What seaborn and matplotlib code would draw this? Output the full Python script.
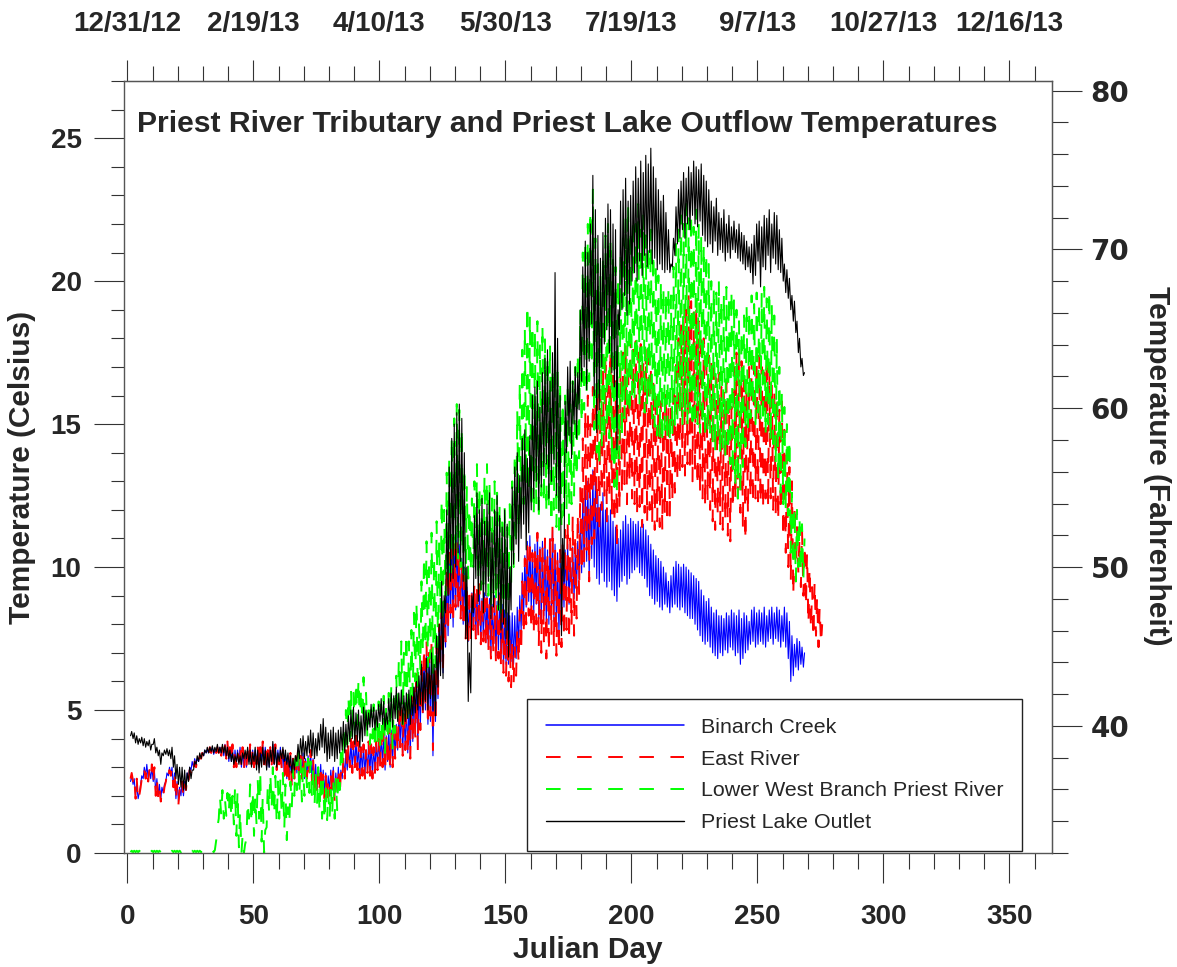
import numpy as np
import pandas as pd
import matplotlib
matplotlib.use("Agg")
import matplotlib.pyplot as plt
import seaborn as sns
from matplotlib.ticker import FixedLocator
from matplotlib.lines import Line2D

# ---------------- data (daily low / high, deg C) ----------------
series_names = ["Binarch Creek", "East River", "Lower West Branch Priest River", "Priest Lake Outlet"]
series_colors = ["#0000ff", "#ff0000", "#00ff00", "#000000"]
top_dates = ["12/31/12", "2/19/13", "4/10/13", "5/30/13", "7/19/13", "9/7/13", "10/27/13", "12/16/13"]
top_date_days = [0, 50, 100, 150, 200, 250, 300, 350]
x_major = [0, 50, 100, 150, 200, 250, 300, 350]
c_major = [0, 5, 10, 15, 20, 25]
f_major = [40, 50, 60, 70, 80]

# Binarch Creek, days 1-268
bin_high = [2.7, 2.6, 2.4, 2.1, 2.7, 3.0, 3.1, 2.9, 3.0, 2.9,
            2.6, 2.4, 2.3, 2.4, 2.8, 3.0, 3.0, 2.8, 2.5, 2.3,
            2.5, 2.5, 2.8, 3.0, 3.2, 3.3, 3.3, 3.4, 3.5, 3.6,
            3.6, 3.7, 3.7, 3.6, 3.7, 3.7, 3.7, 3.8, 3.8, 3.7,
            3.7, 3.6, 3.6, 3.7, 3.6, 3.5, 3.6, 3.7, 3.6, 3.6,
            3.7, 3.7, 3.8, 3.7, 3.6, 3.7, 3.8, 3.7, 3.6, 3.7,
            3.6, 3.5, 3.4, 3.4, 3.3, 3.4, 3.5, 3.4, 3.5, 3.3,
            3.4, 3.5, 3.3, 3.1, 3.0, 3.1, 2.9, 2.8, 2.7, 2.9,
            3.0, 2.8, 3.0, 2.9, 3.3, 3.5, 3.7, 3.9, 3.8, 4.0,
            3.8, 3.7, 3.8, 3.6, 3.8, 3.8, 3.7, 3.9, 4.0, 4.1,
            4.2, 4.1, 4.4, 4.3, 4.4, 4.5, 4.9, 5.1, 4.9, 5.2,
            5.1, 5.3, 5.8, 6.2, 5.9, 6.6, 6.9, 7.1, 6.8, 7.2,
            6.3, 7.0, 7.8, 8.8, 8.6, 9.8, 10.4, 10.8, 10.6, 11.2,
            10.8, 10.3, 10.0, 9.3, 9.0, 9.1, 9.2, 9.0, 9.1, 8.9,
            9.1, 9.0, 8.9, 8.7, 9.0, 8.8, 9.1, 8.7, 8.5, 8.4,
            8.3, 8.4, 8.3, 8.6, 9.0, 9.8, 10.4, 10.9, 11.1, 10.6,
            10.8, 11.2, 10.7, 10.9, 11.0, 10.6, 11.0, 11.3, 10.8, 10.5,
            10.3, 10.4, 10.6, 10.8, 10.2, 10.7, 10.5, 10.9, 11.6, 12.4,
            12.8, 13.0, 12.6, 13.4, 13.0, 12.5, 12.2, 12.6, 12.0, 11.8,
            12.0, 11.6, 11.4, 11.0, 11.3, 11.6, 11.8, 11.5, 11.7, 11.6,
            11.5, 11.6, 11.4, 11.5, 11.3, 11.1, 10.8, 10.6, 10.4, 10.3,
            10.2, 10.0, 9.8, 9.5, 9.7, 10.0, 10.2, 10.1, 10.0, 10.1,
            10.0, 9.9, 9.8, 9.7, 9.6, 9.5, 9.2, 9.0, 8.8, 8.9,
            8.6, 8.4, 8.5, 8.3, 8.3, 8.2, 8.4, 8.3, 8.5, 8.4,
            8.3, 8.5, 8.2, 8.4, 8.3, 8.1, 8.5, 8.6, 8.4, 8.5,
            8.4, 8.6, 8.3, 8.5, 8.6, 8.4, 8.6, 8.5, 8.3, 8.6,
            8.4, 8.1, 7.6, 7.3, 7.5, 7.4, 7.2, 7.0]
bin_low = [2.5, 2.4, 2.0, 1.9, 2.4, 2.6, 2.7, 2.6, 2.6, 2.5,
           2.1, 2.0, 1.9, 2.1, 2.5, 2.7, 2.7, 2.3, 1.9, 1.8,
           2.0, 2.0, 2.3, 2.6, 2.9, 3.0, 3.1, 3.2, 3.3, 3.4,
           3.5, 3.5, 3.5, 3.45, 3.5, 3.5, 3.45, 3.4, 3.3, 3.2,
           3.2, 3.0, 3.1, 3.2, 3.0, 3.0, 3.0, 3.2, 3.1, 3.0,
           3.1, 3.0, 3.2, 3.1, 3.0, 3.0, 3.1, 3.1, 3.0, 3.1,
           3.0, 2.8, 2.6, 2.6, 2.5, 2.7, 2.8, 2.6, 2.7, 2.6,
           2.7, 2.8, 2.6, 2.3, 2.2, 2.4, 2.2, 2.1, 2.0, 2.2,
           2.2, 2.0, 2.2, 2.2, 2.6, 2.7, 2.9, 3.0, 2.9, 3.0,
           2.9, 2.7, 2.8, 2.7, 2.9, 2.8, 2.7, 2.9, 3.0, 3.1,
           3.1, 2.9, 3.2, 3.0, 3.1, 3.4, 3.6, 3.8, 3.5, 3.7,
           3.5, 3.4, 3.9, 4.1, 3.7, 4.4, 4.9, 5.0, 4.5, 4.6,
           3.4, 4.6, 5.4, 6.4, 6.3, 7.2, 7.6, 8.2, 7.9, 8.5,
           8.6, 8.3, 8.0, 7.6, 7.4, 7.6, 7.8, 7.6, 7.7, 7.5,
           7.6, 7.4, 7.2, 7.0, 7.2, 6.9, 7.1, 6.8, 6.6, 6.6,
           6.6, 6.7, 6.6, 6.8, 7.2, 7.8, 8.3, 8.6, 8.8, 8.4,
           8.4, 8.7, 8.2, 8.1, 8.3, 7.9, 8.0, 8.4, 8.1, 7.8,
           7.6, 7.8, 8.6, 9.0, 8.7, 9.1, 8.9, 9.2, 9.6, 9.8,
           10.0, 10.2, 9.6, 10.3, 10.0, 9.6, 9.4, 9.8, 9.5, 9.3,
           9.5, 9.2, 9.0, 8.8, 9.3, 9.5, 9.7, 9.4, 9.6, 9.8,
           9.9, 10.0, 9.8, 9.7, 9.6, 9.3, 9.0, 8.9, 8.7, 8.8,
           8.6, 8.5, 8.7, 8.6, 8.4, 8.6, 8.7, 8.6, 8.5, 8.6,
           8.4, 8.3, 8.2, 8.2, 8.0, 7.8, 7.6, 7.4, 7.3, 7.4,
           7.2, 7.0, 6.9, 6.8, 7.0, 6.9, 7.1, 7.0, 7.2, 7.1,
           6.9, 7.0, 6.6, 6.8, 7.0, 7.1, 7.3, 7.4, 7.2, 7.3,
           7.4, 7.3, 7.2, 7.4, 7.5, 7.3, 7.5, 7.4, 7.2, 7.4,
           7.2, 6.8, 6.0, 6.2, 6.5, 6.4, 6.6, 6.5]

# East River, days 1-275
east_high = [2.8, 2.7, 2.6, 2.0, 2.6, 2.9, 3.0, 2.9, 3.1, 3.0,
             2.6, 2.3, 2.2, 2.3, 2.8, 2.9, 3.0, 2.9, 2.4, 2.2,
             2.5, 2.4, 2.7, 2.9, 3.1, 3.2, 3.3, 3.4, 3.5, 3.6,
             3.6, 3.7, 3.7, 3.6, 3.7, 3.8, 3.7, 3.8, 3.9, 3.7,
             3.8, 3.7, 3.6, 3.8, 3.7, 3.5, 3.6, 3.8, 3.7, 3.6,
             3.8, 3.7, 3.9, 3.8, 3.6, 3.7, 3.9, 3.8, 3.6, 3.7,
             3.6, 3.5, 3.4, 3.5, 3.3, 3.5, 3.6, 3.4, 3.5, 3.3,
             3.4, 3.6, 3.3, 3.0, 2.9, 3.1, 2.8, 2.7, 2.6, 2.8,
             2.9, 2.6, 3.0, 2.8, 3.3, 3.6, 3.8, 4.0, 3.9, 4.1,
             3.9, 3.7, 3.8, 3.6, 3.9, 3.8, 3.7, 3.9, 4.0, 4.2,
             4.3, 4.1, 4.5, 4.3, 4.4, 4.6, 5.0, 5.3, 5.0, 5.4,
             5.2, 5.5, 6.0, 6.5, 6.0, 6.9, 7.2, 7.4, 7.0, 7.5,
             6.5, 7.3, 8.0, 9.0, 8.8, 10.0, 10.5, 11.2, 10.8, 11.0,
             10.6, 10.2, 10.0, 9.4, 9.0, 9.3, 9.5, 9.2, 9.4, 9.0,
             9.2, 8.9, 8.8, 8.6, 8.9, 8.7, 9.0, 8.5, 8.2, 7.8,
             7.5, 7.4, 7.2, 7.8, 8.5, 9.5, 10.3, 10.8, 11.0, 10.5,
             10.8, 11.2, 10.6, 10.8, 11.0, 10.5, 11.2, 11.5, 10.8, 10.4,
             10.6, 10.9, 11.3, 11.6, 11.0, 11.8, 11.2, 11.9, 12.8, 14.5,
             15.5, 16.0, 15.0, 16.3, 15.8, 16.5, 16.2, 17.0, 17.5, 16.8,
             17.6, 17.0, 16.5, 15.7, 17.0, 17.5, 17.8, 17.2, 18.0, 17.6,
             17.9, 17.5, 17.8, 17.1, 17.6, 17.4, 17.0, 16.5, 16.2, 16.0,
             15.8, 15.4, 16.1, 15.6, 15.8, 16.5, 17.3, 18.0, 18.5, 18.8,
             19.0, 19.6, 19.3, 18.9, 19.2, 18.6, 18.2, 18.0, 17.6, 17.4,
             17.2, 17.0, 16.6, 16.8, 16.3, 16.1, 16.5, 15.9, 15.6, 17.0,
             17.5, 17.7, 17.2, 16.6, 16.2, 17.0, 17.3, 17.0, 17.2, 17.4,
             17.0, 16.8, 17.3, 16.9, 16.5, 16.2, 16.0, 15.5, 15.8, 14.8,
             14.0, 13.5, 13.0, 12.2, 11.4, 11.0, 11.3, 10.8, 10.5, 10.0,
             9.3, 9.5, 9.0, 8.6, 8.0]
east_low = [2.6, 2.5, 1.9, 1.8, 2.3, 2.5, 2.6, 2.5, 2.6, 2.4,
            2.0, 1.9, 1.8, 2.0, 2.5, 2.6, 2.7, 2.3, 1.8, 1.7,
            2.0, 1.9, 2.2, 2.5, 2.8, 2.9, 3.0, 3.1, 3.3, 3.4,
            3.5, 3.5, 3.5, 3.45, 3.5, 3.5, 3.4, 3.4, 3.3, 3.1,
            3.2, 3.0, 3.0, 3.2, 3.0, 2.9, 3.0, 3.2, 3.1, 3.0,
            3.1, 3.0, 3.2, 3.1, 2.9, 3.0, 3.1, 3.0, 2.9, 3.1,
            2.9, 2.7, 2.4, 2.5, 2.3, 2.6, 2.7, 2.5, 2.6, 2.5,
            2.6, 2.8, 2.5, 2.2, 2.0, 2.3, 2.0, 1.9, 1.8, 2.0,
            2.0, 1.75, 2.0, 2.0, 2.5, 2.6, 2.9, 3.0, 2.8, 3.0,
            2.9, 2.6, 2.7, 2.6, 2.8, 2.7, 2.6, 2.8, 2.9, 3.0,
            3.0, 2.8, 3.1, 2.9, 3.0, 3.3, 3.5, 3.7, 3.4, 3.6,
            3.4, 3.3, 3.8, 4.0, 3.6, 4.3, 4.8, 5.0, 4.4, 4.8,
            3.6, 4.5, 5.5, 6.6, 6.5, 7.4, 7.8, 8.4, 8.0, 8.6,
            8.5, 8.2, 8.0, 7.5, 7.2, 7.4, 7.8, 7.5, 7.6, 7.3,
            7.4, 7.2, 7.0, 6.8, 6.9, 6.6, 6.8, 6.5, 6.3, 6.2,
            6.0, 5.8, 5.9, 6.2, 6.6, 7.0, 7.6, 8.0, 8.3, 7.8,
            7.6, 8.0, 7.2, 7.0, 7.4, 6.8, 7.0, 7.6, 7.2, 6.9,
            7.0, 7.2, 7.5, 7.8, 7.4, 7.9, 7.6, 8.2, 9.0, 9.8,
            10.2, 10.6, 9.5, 10.8, 11.0, 11.6, 11.2, 12.0, 12.5, 11.6,
            12.4, 11.8, 11.5, 10.6, 12.0, 12.5, 12.9, 12.2, 13.0, 12.4,
            12.2, 11.8, 12.1, 11.4, 11.9, 11.6, 12.0, 11.5, 11.3, 11.6,
            11.4, 11.3, 11.8, 11.5, 11.8, 12.3, 12.6, 13.0, 13.2, 13.5,
            13.2, 13.6, 13.3, 13.0, 13.4, 12.8, 12.6, 12.4, 12.1, 12.3,
            12.0, 11.6, 11.3, 11.8, 11.5, 11.3, 11.6, 11.1, 10.9, 12.0,
            12.3, 12.4, 11.9, 11.3, 10.9, 11.8, 12.4, 12.2, 12.4, 12.3,
            12.2, 12.0, 12.4, 12.1, 12.4, 12.0, 11.8, 11.6, 11.9, 11.0,
            10.5, 10.0, 9.5, 9.0, 9.5, 9.8, 9.3, 9.0, 8.6, 8.0,
            7.8, 7.5, 7.6, 7.2, 7.3]

# Lower West Branch Priest River, days 1-268
lwb_high = [0.08, 0.08, 0.08, 0.08, 0.08, 0.08, 0.08, 0.08, 0.08, 0.08,
            0.08, 0.08, 0.08, 0.08, 0.08, 0.08, 0.08, 0.08, 0.08, 0.08,
            0.08, 0.08, 0.08, 0.08, 0.08, 0.08, 0.08, 0.08, 0.08, 0.08,
            0.08, 0.08, 0.08, 0.1, 0.9, 2.0, 2.2, 1.9, 2.1, 2.3,
            2.0, 2.3, 2.2, 1.5, 0.6, 0.3, 1.8, 2.4, 2.2, 2.0,
            2.6, 2.9, 2.0, 0.8, 2.4, 2.8, 3.0, 2.7, 2.5, 2.6,
            2.8, 2.4, 1.6, 2.5, 2.9, 3.3, 3.5, 3.3, 3.0, 3.2,
            3.3, 3.2, 3.0, 2.8, 3.0, 2.7, 2.5, 2.4, 2.2, 2.3,
            2.5, 2.6, 2.8, 3.5, 4.2, 5.0, 5.5, 5.8, 5.6, 6.0,
            6.1, 5.8, 6.15, 5.6, 5.3, 5.0, 5.2, 4.9, 5.3, 5.2,
            5.5, 5.2, 5.6, 5.8, 5.4, 6.2, 6.8, 7.4, 7.0, 7.7,
            7.4, 7.8, 8.4, 8.8, 8.0, 9.5, 10.4, 10.9, 10.0, 11.2,
            10.4, 11.6, 11.0, 12.4, 12.0, 13.3, 13.8, 14.6, 15.2, 15.7,
            15.5, 14.9, 13.5, 12.8, 12.1, 12.4, 13.0, 13.6, 12.8, 12.5,
            13.2, 13.6, 12.9, 12.4, 13.0, 12.6, 12.2, 11.6, 12.1, 11.4,
            12.2, 13.0, 14.0, 15.5, 16.5, 17.6, 18.4, 19.2, 18.8, 18.5,
            18.3, 18.6, 17.8, 18.5, 18.0, 17.4, 17.8, 17.0, 17.5, 16.8,
            16.5, 15.8, 16.0, 16.3, 15.7, 16.5, 17.0, 17.5, 19.0, 21.0,
            21.4, 22.0, 22.5, 23.2, 21.5, 20.6, 20.2, 21.0, 21.6, 22.0,
            21.5, 21.0, 20.5, 20.1, 20.9, 21.5, 22.2, 22.7, 21.8, 22.2,
            22.0, 22.7, 21.8, 22.3, 21.6, 21.3, 21.8, 21.0, 20.6, 20.2,
            20.0, 19.8, 19.6, 19.8, 19.5, 20.5, 21.3, 21.8, 22.3, 22.0,
            22.7, 22.2, 22.4, 21.9, 22.5, 22.0, 21.6, 21.3, 21.0, 20.6,
            20.0, 19.8, 19.6, 20.0, 19.4, 19.6, 19.8, 19.5, 19.7, 19.4,
            19.0, 18.6, 18.3, 18.8, 19.2, 19.0, 19.5, 19.2, 19.6, 19.3,
            19.6, 19.8, 19.4, 19.7, 19.2, 18.8, 18.0, 17.0, 16.1, 15.6,
            15.0, 14.5, 12.6, 12.1, 12.0, 11.8, 11.5, 11.0]
lwb_low = [0.03, 0.03, 0.03, 0.03, 0.03, 0.03, 0.03, 0.03, 0.03, 0.03,
           0.03, 0.03, 0.03, 0.03, 0.03, 0.03, 0.03, 0.03, 0.03, 0.03,
           0.03, 0.03, 0.03, 0.03, 0.03, 0.03, 0.03, 0.03, 0.03, 0.03,
           0.03, 0.03, 0.03, 0.03, 0.45, 1.2, 1.3, 1.2, 1.3, 1.4,
           1.2, 1.0, 0.6, 0.2, 0.0, 0.0, 0.5, 1.2, 1.0, 0.6,
           1.0, 1.2, 0.4, 0.0, 0.9, 1.4, 1.6, 1.3, 1.0, 1.2,
           1.3, 0.8, 0.45, 1.0, 1.6, 2.0, 2.2, 2.0, 1.8, 2.0,
           2.3, 2.1, 1.9, 1.6, 1.7, 1.4, 1.2, 1.1, 1.15, 1.2,
           1.3, 1.2, 1.5, 2.2, 3.0, 3.4, 3.8, 4.0, 4.0, 4.3,
           4.5, 4.3, 4.6, 4.3, 4.0, 3.8, 4.0, 3.6, 3.8, 3.6,
           3.8, 3.5, 3.9, 4.0, 3.6, 4.2, 4.6, 5.0, 4.5, 5.0,
           4.6, 4.8, 5.5, 6.0, 5.6, 6.4, 7.0, 7.2, 6.5, 6.8,
           6.2, 6.5, 7.2, 8.4, 8.0, 9.0, 9.5, 9.8, 10.2, 10.5,
           10.3, 10.0, 9.8, 9.5, 9.6, 9.8, 10.0, 10.1, 9.5, 9.2,
           9.4, 9.8, 9.0, 8.6, 9.1, 8.8, 8.5, 8.4, 8.6, 8.4,
           8.6, 9.2, 10.0, 10.8, 11.3, 11.8, 12.2, 12.9, 12.6, 12.0,
           11.8, 12.2, 11.6, 12.5, 12.2, 11.9, 12.0, 11.5, 12.0, 11.4,
           11.3, 11.3, 11.8, 12.0, 11.5, 12.2, 12.5, 13.1, 13.8, 15.0,
           15.5, 16.0, 16.5, 17.0, 14.8, 14.0, 13.5, 14.2, 14.4, 14.8,
           14.5, 13.6, 12.8, 12.5, 13.8, 14.5, 15.2, 15.7, 15.3, 16.0,
           15.8, 16.5, 15.6, 16.2, 15.4, 15.6, 15.8, 15.2, 14.9, 14.6,
           14.5, 14.3, 14.8, 14.4, 14.3, 14.6, 14.9, 15.2, 15.4, 15.0,
           15.3, 15.0, 15.4, 14.8, 15.2, 15.0, 14.7, 14.9, 14.5, 14.7,
           14.7, 14.3, 14.0, 14.4, 13.9, 14.1, 13.8, 14.0, 13.6, 13.2,
           12.8, 12.4, 12.6, 13.5, 14.2, 14.8, 15.2, 15.6, 15.0, 15.4,
           15.2, 15.0, 14.6, 15.0, 14.4, 14.0, 13.6, 13.0, 12.6, 12.2,
           12.0, 11.8, 10.5, 10.0, 9.5, 10.0, 9.8, 9.6]

# Priest Lake Outlet, days 1-268
out_high = [4.25, 4.2, 4.1, 4.0, 4.05, 4.0, 3.9, 3.95, 3.8, 4.0,
            3.7, 3.6, 3.5, 3.6, 3.65, 3.6, 3.7, 3.4, 3.1, 3.0,
            3.0, 2.9, 2.8, 3.0, 2.9, 3.2, 3.4, 3.5, 3.5, 3.6,
            3.7, 3.7, 3.75, 3.7, 3.8, 3.7, 3.8, 3.75, 3.7, 3.6,
            3.5, 3.4, 3.5, 3.4, 3.5, 3.6, 3.7, 3.6, 3.5, 3.7,
            3.6, 3.5, 3.7, 3.6, 3.5, 3.6, 3.9, 3.7, 3.5, 3.6,
            3.7, 3.6, 3.5, 3.4, 3.3, 3.4, 3.8, 4.0, 4.1, 3.9,
            4.1, 4.3, 4.2, 4.0, 4.2, 4.5, 4.7, 4.4, 4.2, 4.3,
            4.4, 4.2, 4.3, 4.4, 4.6, 4.5, 4.8, 5.0, 5.1, 4.9,
            5.0, 4.8, 5.1, 5.0, 4.9, 5.2, 5.1, 5.0, 5.2, 5.4,
            5.3, 4.9, 5.4, 5.6, 5.5, 5.8, 5.6, 5.7, 5.5, 5.6,
            5.7, 5.5, 5.8, 6.0, 6.2, 6.6, 6.3, 6.8, 6.5, 7.0,
            6.6, 7.6, 8.0, 9.5, 9.0, 12.0, 13.5, 14.5, 15.0, 15.4,
            15.7, 15.2, 14.0, 10.0, 7.0, 9.0, 11.8, 12.6, 12.0, 12.4,
            11.6, 12.2, 12.6, 11.2, 12.0, 12.5, 11.8, 11.4, 12.0, 11.5,
            10.0, 12.8, 13.5, 14.0, 13.2, 14.5, 14.8, 13.8, 14.6, 16.0,
            16.3, 16.5, 15.6, 16.8, 17.3, 17.6, 16.5, 17.5, 20.3, 18.0,
            16.0, 11.0, 15.8, 17.0, 17.2, 16.5, 17.0, 16.8, 19.0, 20.5,
            21.4, 21.0, 22.0, 23.7, 22.5, 21.6, 20.8, 21.7, 22.2, 22.7,
            22.5, 22.0, 21.8, 19.0, 22.8, 23.2, 23.6, 22.8, 23.0, 23.5,
            24.0, 23.6, 24.2, 23.8, 24.4, 24.1, 24.65, 24.0, 23.6, 23.2,
            22.8, 23.0, 22.4, 21.8, 20.6, 21.5, 22.6, 23.2, 23.5, 23.8,
            23.6, 24.0, 23.8, 24.2, 24.0, 23.9, 24.1, 23.7, 23.5, 23.2,
            22.8, 22.6, 22.9, 22.4, 22.2, 22.5, 22.0, 22.3, 21.9, 22.1,
            21.8, 22.0, 21.7, 21.6, 21.4, 21.2, 21.3, 21.6, 22.0, 22.1,
            21.9, 22.3, 22.2, 22.5, 22.0, 22.4, 22.3, 21.8, 21.5, 20.6,
            20.4, 20.1, 19.5, 19.3, 18.6, 18.0, 17.3, 16.8]
out_low = [4.1, 4.0, 3.85, 3.8, 3.85, 3.75, 3.7, 3.75, 3.6, 3.8,
           3.5, 3.4, 3.1, 3.4, 3.45, 3.4, 3.3, 3.0, 2.6, 2.4,
           2.3, 2.2, 2.2, 2.5, 2.6, 2.9, 3.1, 3.2, 3.3, 3.4,
           3.5, 3.5, 3.55, 3.5, 3.55, 3.5, 3.5, 3.5, 3.4, 3.3,
           3.2, 3.1, 3.2, 3.1, 3.1, 3.3, 3.3, 3.1, 3.0, 3.2,
           2.9, 2.8, 3.0, 3.1, 2.9, 3.0, 3.2, 3.1, 3.0, 3.2,
           3.3, 3.2, 3.1, 3.0, 2.8, 2.9, 3.2, 3.3, 3.4, 3.3,
           3.4, 3.5, 3.4, 3.3, 3.4, 3.6, 3.7, 3.5, 3.2, 3.3,
           3.4, 3.2, 3.3, 3.5, 3.6, 3.5, 3.7, 3.9, 4.0, 3.8,
           3.9, 3.7, 3.9, 4.1, 4.3, 4.4, 4.4, 4.3, 4.4, 4.6,
           4.5, 4.3, 4.5, 4.6, 4.4, 4.7, 4.6, 4.8, 4.5, 4.6,
           4.7, 4.5, 4.8, 4.9, 5.0, 5.2, 5.0, 5.3, 5.0, 5.4,
           5.0, 4.8, 5.8, 6.2, 6.1, 8.4, 9.0, 9.5, 9.6, 10.0,
           10.5, 10.2, 9.5, 7.5, 5.3, 5.6, 8.4, 9.6, 8.8, 9.2,
           8.4, 9.0, 9.5, 8.2, 8.6, 9.2, 8.5, 7.8, 8.0, 7.5,
           6.85, 8.5, 10.1, 10.8, 10.2, 11.0, 11.5, 10.6, 11.2, 12.0,
           12.4, 13.0, 12.0, 12.8, 13.2, 13.6, 12.4, 13.0, 13.6, 12.5,
           11.9, 7.6, 9.5, 14.0, 14.6, 13.8, 15.0, 14.5, 15.5, 16.5,
           17.0, 16.2, 17.2, 18.5, 16.0, 14.7, 15.5, 17.0, 17.8, 18.3,
           17.5, 16.8, 16.3, 14.1, 18.3, 19.0, 19.5, 18.8, 19.2, 20.0,
           20.3, 20.0, 20.7, 20.2, 20.9, 20.5, 21.0, 20.6, 20.8, 20.4,
           20.6, 20.4, 20.3, 20.4, 20.3, 20.5, 20.9, 21.3, 21.5, 21.8,
           21.5, 22.0, 21.8, 22.3, 22.0, 21.9, 22.1, 21.6, 21.4, 21.2,
           21.3, 21.0, 21.4, 20.9, 21.1, 21.0, 20.7, 21.0, 20.8, 21.1,
           21.0, 20.8, 20.7, 20.6, 20.4, 20.5, 20.3, 19.9, 20.2, 20.7,
           19.8, 20.5, 20.4, 20.9, 20.3, 20.8, 20.6, 20.4, 20.3, 20.0,
           19.6, 19.4, 19.0, 18.6, 18.2, 17.5, 17.0, 16.7]

lows = [bin_low, east_low, lwb_low, out_low]
highs = [bin_high, east_high, lwb_high, out_high]


def diurnal_frame(low, high, name):
    t, v = [], []
    for i, (lo, hi) in enumerate(zip(low, high)):
        day = i + 1
        t += [day + 0.25, day + 0.70]
        v += [lo, hi]
    return pd.DataFrame({"Julian Day": t, "Temperature": v, "Site": name})


frames = [diurnal_frame(lo, hi, n) for lo, hi, n in zip(lows, highs, series_names)]

# ---------------- figure ----------------
sns.set_style("ticks")
plt.rcParams["font.family"] = ["Liberation Sans", "DejaVu Sans"]

W, H = 1177, 967
fig = plt.figure(figsize=(W / 100, H / 100), dpi=100)
L_px, R_px, T_px, B_px = 124, 1052, 81, 853
ax = fig.add_axes([L_px / W, 1 - B_px / H, (R_px - L_px) / W, (B_px - T_px) / H])

styles = [dict(lw=0.8, ls="-", hlw=1.1),
          dict(lw=1.4, ls=(0, (7.5, 8.5)), hlw=1.4),
          dict(lw=1.4, ls=(0, (7.5, 8.5)), hlw=1.4),
          dict(lw=0.8, ls="-", hlw=1.0)]

handles = []
for df, col, st, name in zip(frames, series_colors, styles, series_names):
    sns.lineplot(data=df, x="Julian Day", y="Temperature", ax=ax, color=col,
                 estimator=None, sort=False, legend=False, linewidth=st["lw"],
                 linestyle=st["ls"])
    handles.append(Line2D([], [], color=col, lw=st["hlw"], ls=st["ls"]))

ax.set_xlim(-1.35, 366.9)
ax.set_ylim(0, 27)

edge = "#555555"
tickc = "#333333"
for sp in ax.spines.values():
    sp.set_color(edge)
    sp.set_linewidth(1.0)

ax.xaxis.set_major_locator(FixedLocator(x_major))
ax.xaxis.set_minor_locator(FixedLocator(list(range(0, 361, 10))))
ax.yaxis.set_major_locator(FixedLocator(c_major))
ax.yaxis.set_minor_locator(FixedLocator(list(range(0, 28))))
ax.tick_params(axis="x", which="major", direction="out", length=21.6, width=0.8,
               color=tickc, pad=15, labelsize=20)
ax.tick_params(axis="x", which="minor", direction="out", length=11.5, width=0.8, color=tickc)
ax.tick_params(axis="y", which="major", direction="out", length=21.6, width=0.8,
               color=tickc, pad=9, labelsize=20)
ax.tick_params(axis="y", which="minor", direction="out", length=9.4, width=0.8, color=tickc)
for lab in ax.get_xticklabels() + ax.get_yticklabels():
    lab.set_fontweight("bold")

ax.set_xlabel("Julian Day", fontsize=21.5, fontweight="bold", va="center")
ax.xaxis.set_label_coords(0.5, -(950 - B_px) / (B_px - T_px))
ax.set_ylabel("Temperature (Celsius)", fontsize=21.5, fontweight="bold", va="center")
ax.yaxis.set_label_coords((22 - L_px) / (R_px - L_px), 0.5)

# top date axis
top = ax.secondary_xaxis("top")
top.xaxis.set_major_locator(FixedLocator(top_date_days))
top.set_xticklabels(top_dates)
top.xaxis.set_minor_locator(FixedLocator(list(range(0, 361, 10))))
top.tick_params(axis="x", which="major", direction="out", length=15, width=0.8,
                color=tickc, pad=17, labelsize=20)
top.tick_params(axis="x", which="minor", direction="out", length=10.8, width=0.8, color=tickc)
for lab in top.get_xticklabels():
    lab.set_fontweight("bold")
top.spines["top"].set_color(edge)

# right Fahrenheit axis
right = ax.secondary_yaxis("right", functions=(lambda c: c * 1.8 + 32, lambda f: (f - 32) / 1.8))
right.yaxis.set_major_locator(FixedLocator(f_major))
right.yaxis.set_minor_locator(FixedLocator(list(range(32, 81, 2))))
right.tick_params(axis="y", which="major", direction="out", length=21.6, width=0.8,
                  color=tickc, pad=6, labelsize=20)
right.tick_params(axis="y", which="minor", direction="out", length=11.5, width=0.8, color=tickc)
for lab in right.get_yticklabels():
    lab.set_fontfamily("DejaVu Sans")
    lab.set_fontweight("bold")
right.spines["right"].set_color(edge)
fig.text(1157 / W, 1 - 466 / H, "Temperature (Fahrenheit)", rotation=270,
         ha="center", va="center", fontsize=21.5, fontweight="bold")

# title inside the plot
ax.text((137 - L_px) / (R_px - L_px), (B_px - 124) / (B_px - T_px),
        "Priest River Tributary and Priest Lake Outflow Temperatures",
        transform=ax.transAxes, ha="left", va="center", fontsize=21.7, fontweight="bold")

leg = fig.legend(handles, series_names, loc="lower right",
                 bbox_to_anchor=(1022 / W, 1 - 851 / H), bbox_transform=fig.transFigure,
                 fontsize=15.4, frameon=True, fancybox=False, shadow=False,
                 handlelength=6.45, handletextpad=0.8, borderpad=0.88,
                 labelspacing=0.6, borderaxespad=0)
leg.get_frame().set_edgecolor("#222222")
leg.get_frame().set_linewidth(1.0)
leg.get_frame().set_alpha(1)

fig.savefig("out.png", dpi=100)
